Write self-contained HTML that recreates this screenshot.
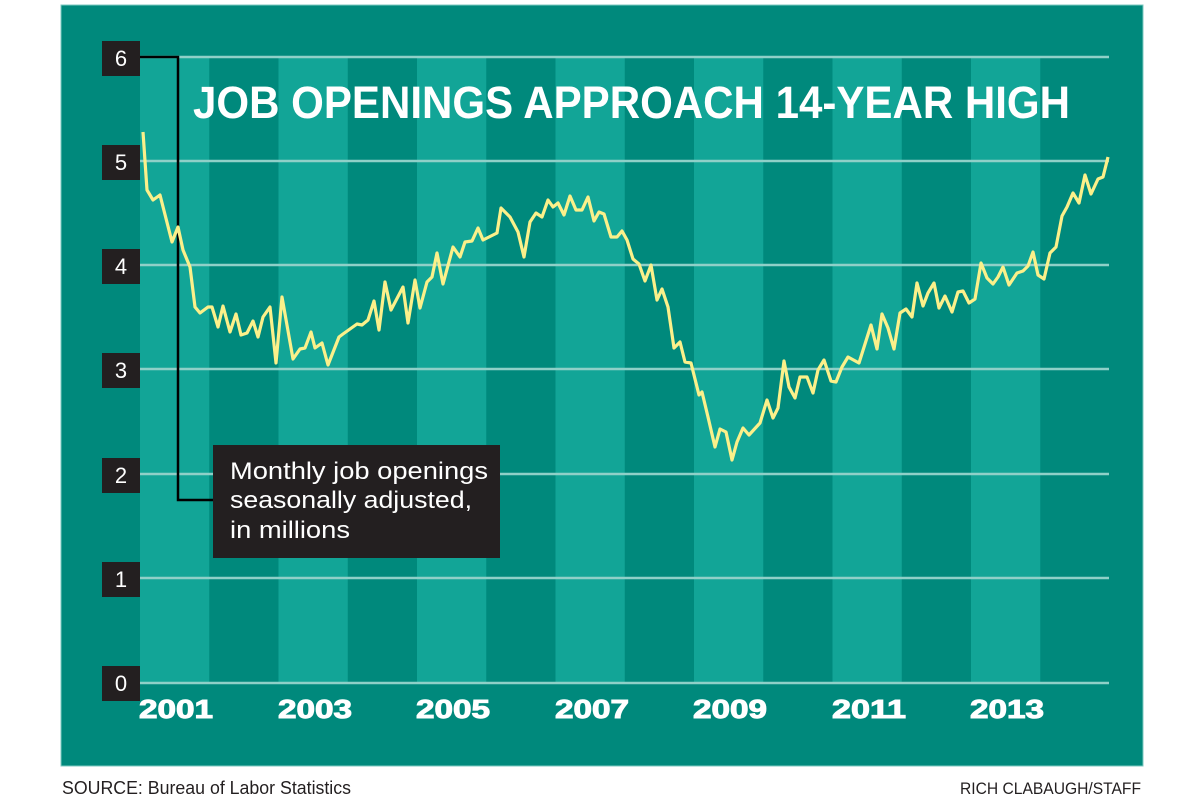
<!DOCTYPE html>
<html><head><meta charset="utf-8"><style>
html,body{margin:0;padding:0;background:#fff;}
svg{display:block;}
</style></head><body>
<svg width="1200" height="800" xmlns="http://www.w3.org/2000/svg" font-family="Liberation Sans, sans-serif">
<rect x="0" y="0" width="1200" height="800" fill="#fff"/>
<rect x="61" y="5" width="1082" height="761" fill="#00897c" stroke="#7cc9c0" stroke-width="1"/>
<g fill="#12a597">
<rect x="140" y="57" width="69.25" height="626"/>
<rect x="278.5" y="57" width="69.25" height="626"/>
<rect x="417" y="57" width="69.25" height="626"/>
<rect x="555.5" y="57" width="69.25" height="626"/>
<rect x="694" y="57" width="69.25" height="626"/>
<rect x="832.5" y="57" width="69.25" height="626"/>
<rect x="971" y="57" width="69.25" height="626"/>
</g>
<g stroke="#8fd0c8" stroke-width="2.5">
<line x1="140" x2="1109" y1="57" y2="57"/>
<line x1="140" x2="1109" y1="161" y2="161"/>
<line x1="140" x2="1109" y1="265" y2="265"/>
<line x1="140" x2="1109" y1="369" y2="369"/>
<line x1="140" x2="1109" y1="474" y2="474"/>
<line x1="140" x2="1109" y1="578" y2="578"/>
<line x1="140" x2="1109" y1="683" y2="683"/>
</g>
<text x="193" y="118" fill="#fff" font-weight="bold" font-size="45" textLength="877" lengthAdjust="spacingAndGlyphs">JOB OPENINGS APPROACH 14-YEAR HIGH</text>
<polyline fill="none" stroke="#000" stroke-width="2.5" points="140,57 178,57 178,500 213,500"/>
<g fill="#231f20">
<rect x="102" y="41" width="38" height="35"/>
<rect x="102" y="145" width="38" height="35"/>
<rect x="102" y="249" width="38" height="35"/>
<rect x="102" y="353" width="38" height="35"/>
<rect x="102" y="458" width="38" height="35"/>
<rect x="102" y="562" width="38" height="35"/>
<rect x="102" y="666" width="38" height="35"/>
</g>
<g fill="#fff" font-size="22" text-anchor="middle">
<text x="121" y="66">6</text>
<text x="121" y="170">5</text>
<text x="121" y="274">4</text>
<text x="121" y="378">3</text>
<text x="121" y="483">2</text>
<text x="121" y="587">1</text>
<text x="121" y="691">0</text>
</g>
<polyline fill="none" stroke="#fbf08a" stroke-width="3.2" stroke-linejoin="round" points="143,132 147,190 153,200 160,195 172,242 178,227 183,250 190,267 195,307 200,313 208,307 212,307 218,327 223,306 230,332 236,314 241,335 247,333 253,321 258,337 263,317 270,307 276,363 282,297 293,359 300,349 305,348 311,332 315,348 322,343 328,365 339,337 343,334 357,324 362,325 368,320 374,301 379,330 385,282 391,310 403,287 408,323 415,280 420,308 427,282 432,277 437,253 443,284 453,247 460,257 465,242 472,241 478,228 483,240 497,233 501,208 510,217 518,232 524,257 530,222 536,213 542,217 548,200 553,207 558,203 564,215 570,196 576,210 582,210 588,197 594,221 599,212 604,214 611,237 617,237 622,231 627,240 633,259 639,264 645,281 651,265 657,300 662,289 668,307 674,348 680,342 685,362 691,363 699,395 702,392 708,417 715,447 720,429 726,432 732,460 737,442 743,428 749,435 760,423 767,400 773,418 778,408 784,361 789,387 795,398 800,377 807,377 813,393 818,370 824,360 831,381 836,382 842,367 848,357 859,363 871,325 877,349 882,314 888,328 894,349 900,313 906,309 912,317 917,283 923,306 928,293 934,283 939,308 945,296 952,312 958,292 963,291 969,303 975,299 981,263 987,278 993,284 998,277 1003,267 1009,285 1017,273 1023,271 1028,266 1033,252 1038,275 1044,279 1050,253 1056,247 1062,216 1067,207 1073,193 1079,203 1085,175 1091,194 1098,179 1103,177 1108,157"/>
<rect x="213" y="445" width="287" height="113" fill="#231f20"/>
<g fill="#fff" font-size="24">
<text x="230" y="479" textLength="258" lengthAdjust="spacingAndGlyphs">Monthly job openings</text>
<text x="230" y="508" textLength="242" lengthAdjust="spacingAndGlyphs">seasonally adjusted,</text>
<text x="230" y="538" textLength="120" lengthAdjust="spacingAndGlyphs">in millions</text>
</g>
<g fill="#fff" stroke="#fff" stroke-width="1" font-size="26" font-weight="bold" text-anchor="middle">
<text x="176" y="718" textLength="74" lengthAdjust="spacingAndGlyphs">2001</text>
<text x="315" y="718" textLength="74" lengthAdjust="spacingAndGlyphs">2003</text>
<text x="453" y="718" textLength="74" lengthAdjust="spacingAndGlyphs">2005</text>
<text x="592" y="718" textLength="74" lengthAdjust="spacingAndGlyphs">2007</text>
<text x="730" y="718" textLength="74" lengthAdjust="spacingAndGlyphs">2009</text>
<text x="869" y="718" textLength="74" lengthAdjust="spacingAndGlyphs">2011</text>
<text x="1007" y="718" textLength="74" lengthAdjust="spacingAndGlyphs">2013</text>
</g>
<text x="62" y="794" fill="#231f20" font-size="18" textLength="289" lengthAdjust="spacingAndGlyphs">SOURCE: Bureau of Labor Statistics</text>
<text x="1141" y="794" fill="#231f20" font-size="17" text-anchor="end" textLength="181" lengthAdjust="spacingAndGlyphs">RICH CLABAUGH/STAFF</text>
</svg>
</body></html>
